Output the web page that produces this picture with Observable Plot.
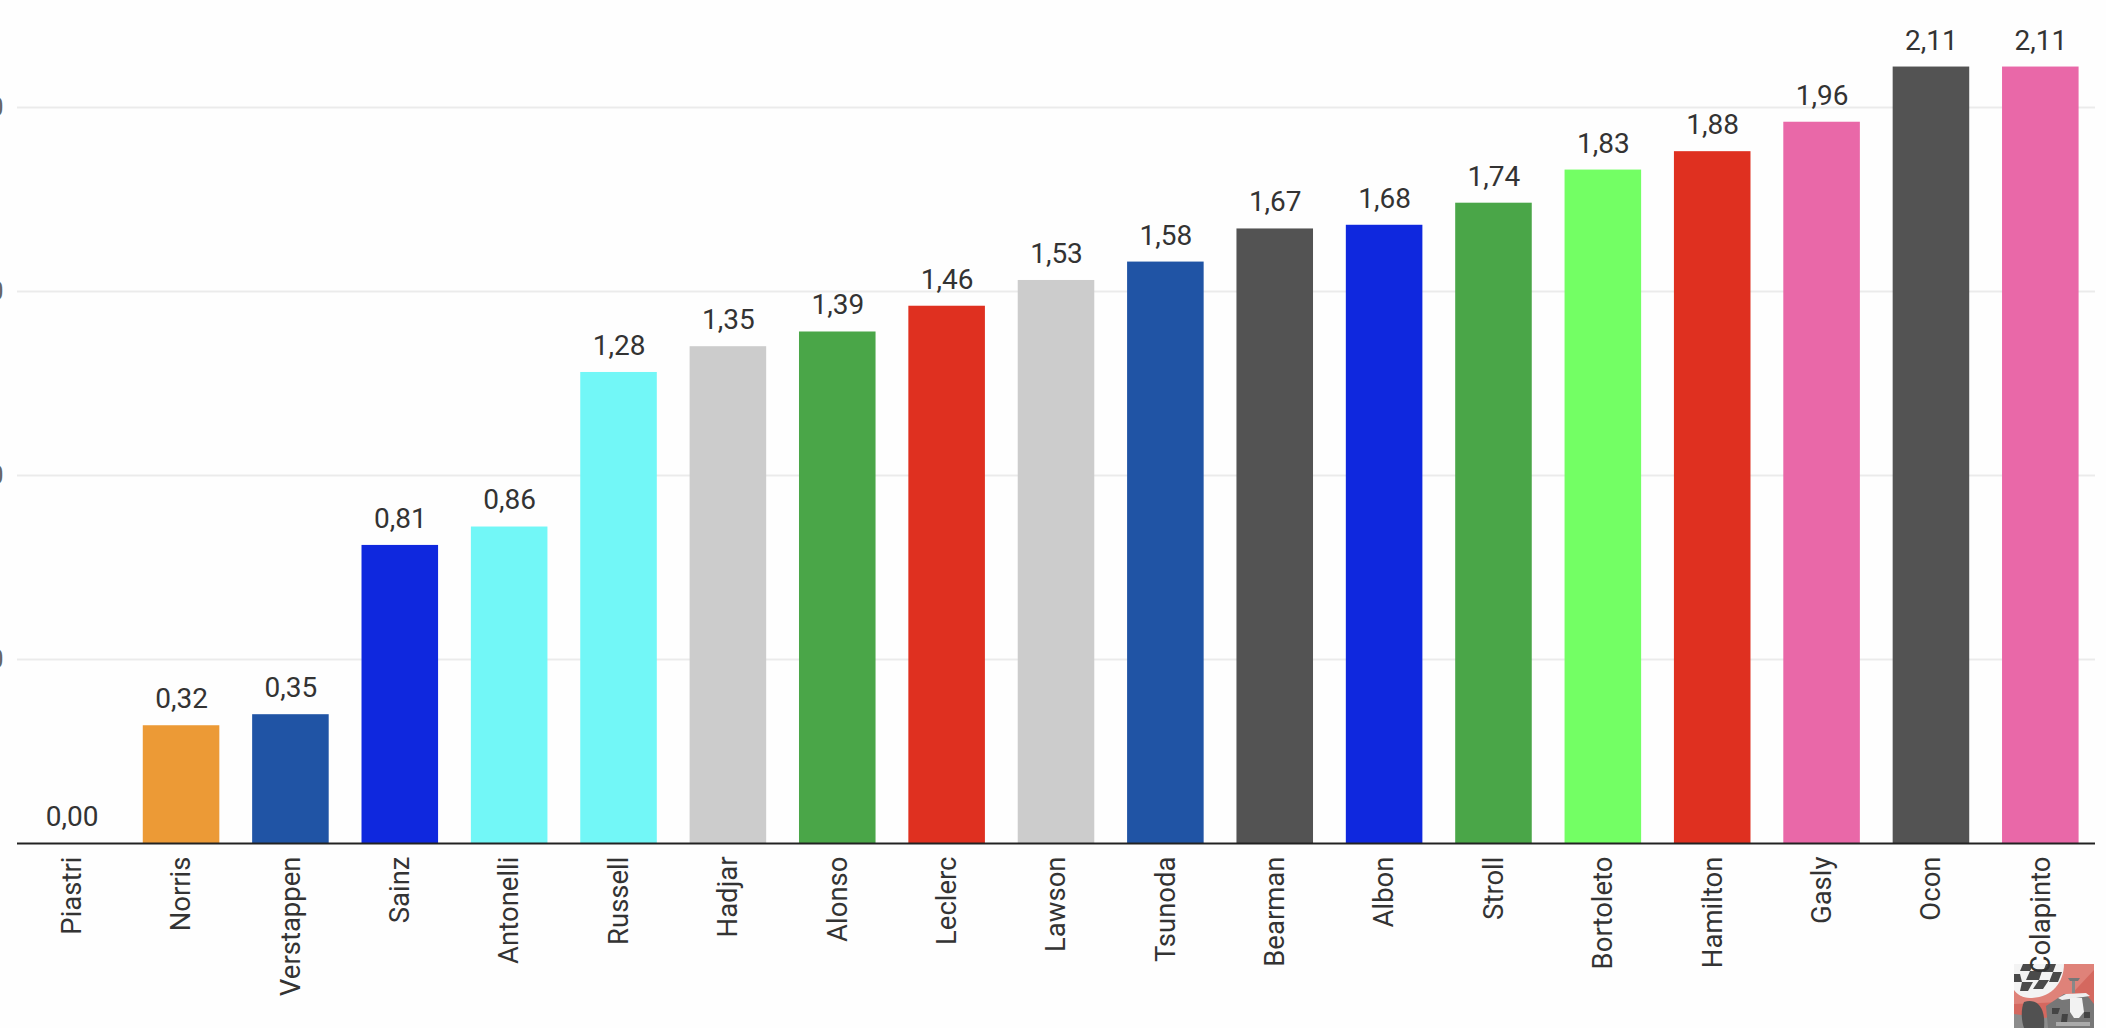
<!DOCTYPE html>
<html><head><meta charset="utf-8">
<script src="https://cdn.jsdelivr.net/npm/d3@7"></script>
<script src="https://cdn.jsdelivr.net/npm/@observablehq/plot@0.6"></script>
<style>
html,body{margin:0;padding:0;background:#fefefe;overflow:hidden}
#wrap{position:relative;width:2106px;height:1028px}
#wrap svg{position:absolute;left:0;top:0}
#wrap svg#logo{left:2014px;top:964px;width:80px;height:64px;display:block}
text{font-family:Roboto,sans-serif}
</style></head><body><div id="wrap"></div>
<script>
const drivers = ["Piastri","Norris","Verstappen","Sainz","Antonelli","Russell","Hadjar","Alonso","Leclerc","Lawson","Tsunoda","Bearman","Albon","Stroll","Bortoleto","Hamilton","Gasly","Ocon","Colapinto"];
const values = [0,0.32,0.35,0.81,0.86,1.28,1.35,1.39,1.46,1.53,1.58,1.67,1.68,1.74,1.83,1.88,1.96,2.11,2.11];
const colors = ["#ec9a36","#ec9a36","#2054a5","#0f28de","#72f7f7","#72f7f7","#cccccc","#4aa648","#df3020","#cccccc","#2054a5","#535353","#0f28de","#4aa648","#73ff64","#df3020","#e968a8","#535353","#e968a8"];
const yTicks = [0.5,1,1.5,2];
const rows = drivers.map((d,i)=>({d,v:values[i],c:colors[i]}));
const fmt = v => v.toFixed(2).replace(".",",");

const chart = Plot.plot({
  width:2106, height:1028,
  marginTop:0.3, marginBottom:185, marginLeft:17, marginRight:11,
  style:{background:"transparent",fontFamily:"Roboto, sans-serif"},
  x:{domain:drivers,paddingInner:0.3,paddingOuter:0.15,round:false,label:null},
  y:{domain:[0,2.29],label:null},
  marks:[
    Plot.ruleY(yTicks,{stroke:"#ebebeb",strokeWidth:2}),
    Plot.axisY({ticks:yTicks,tickSize:0,tickPadding:14,tickFormat:fmt,fontSize:26,fill:"#666",label:null}),
    Plot.barY(rows,{x:"d",y:"v",fill:"c"}),
    Plot.ruleY([0],{stroke:"#222",strokeWidth:2}),
    Plot.text(rows,{x:"d",y:"v",text:d=>fmt(d.v),dy:-26.5,fontSize:28,fill:"#333"}),
    Plot.axisX({tickSize:0,tickPadding:13,tickRotate:-90,fontSize:27.5,fill:"#333",label:null})
  ]
});
const wrap=document.getElementById("wrap");
// small watermark in the corner of the reference, beneath the chart's texts
wrap.insertAdjacentHTML("beforeend",`<svg id="logo" viewBox="0 0 80 64" xmlns="http://www.w3.org/2000/svg">
<rect width="80" height="64" fill="#d4685f"/>
<path d="M52 0H80V6L50 38 0 40V0Z" fill="#df8279"/>
<path d="M0 0H50C50 18 38 34 16 34C8 34 3 30 0 26Z" fill="#f3f3f3"/>
<g fill="#4a4a4a"><path d="M9 0h11l-4 7H6z"/><path d="M32 0h10l-3 8H29z"/><path d="M16 7h12l-3 9H12z"/><path d="M39 8h9l-4 10h-9z"/><path d="M0 10h6l2 8H0z"/><path d="M25 16h10l-6 9H19z"/><path d="M8 18h11l-5 9H6z"/></g>
<path d="M0 50L30 54 80 46V64H0Z" fill="#8c8c8c"/>
<path d="M10 38C22 34 32 42 30 64H10C7 56 7 44 10 38Z" fill="#515151"/>
<path d="M34 64L32 42 50 30 72 30 80 40V64Z" fill="#777"/>
<g fill="#444"><path d="M38 44h8l-2 6h-6z"/><path d="M48 50h6l-1 8h-6z"/><path d="M70 48h6v6h-6z"/></g>
<path d="M52 30L44 34 48 36 76 32 72 29Z" fill="#eee"/>
<path d="M56 34h12l2 14-5 6h-5l-4-6z" fill="#f2f2f2"/>
<path d="M54 14H66L64 17H56Z" fill="#777"/><path d="M58 17h3v12h-3z" fill="#888"/>
<path d="M42 58H76V62H42Z" fill="#aaa"/>
</svg>`);
wrap.appendChild(chart);
</script></body></html>
